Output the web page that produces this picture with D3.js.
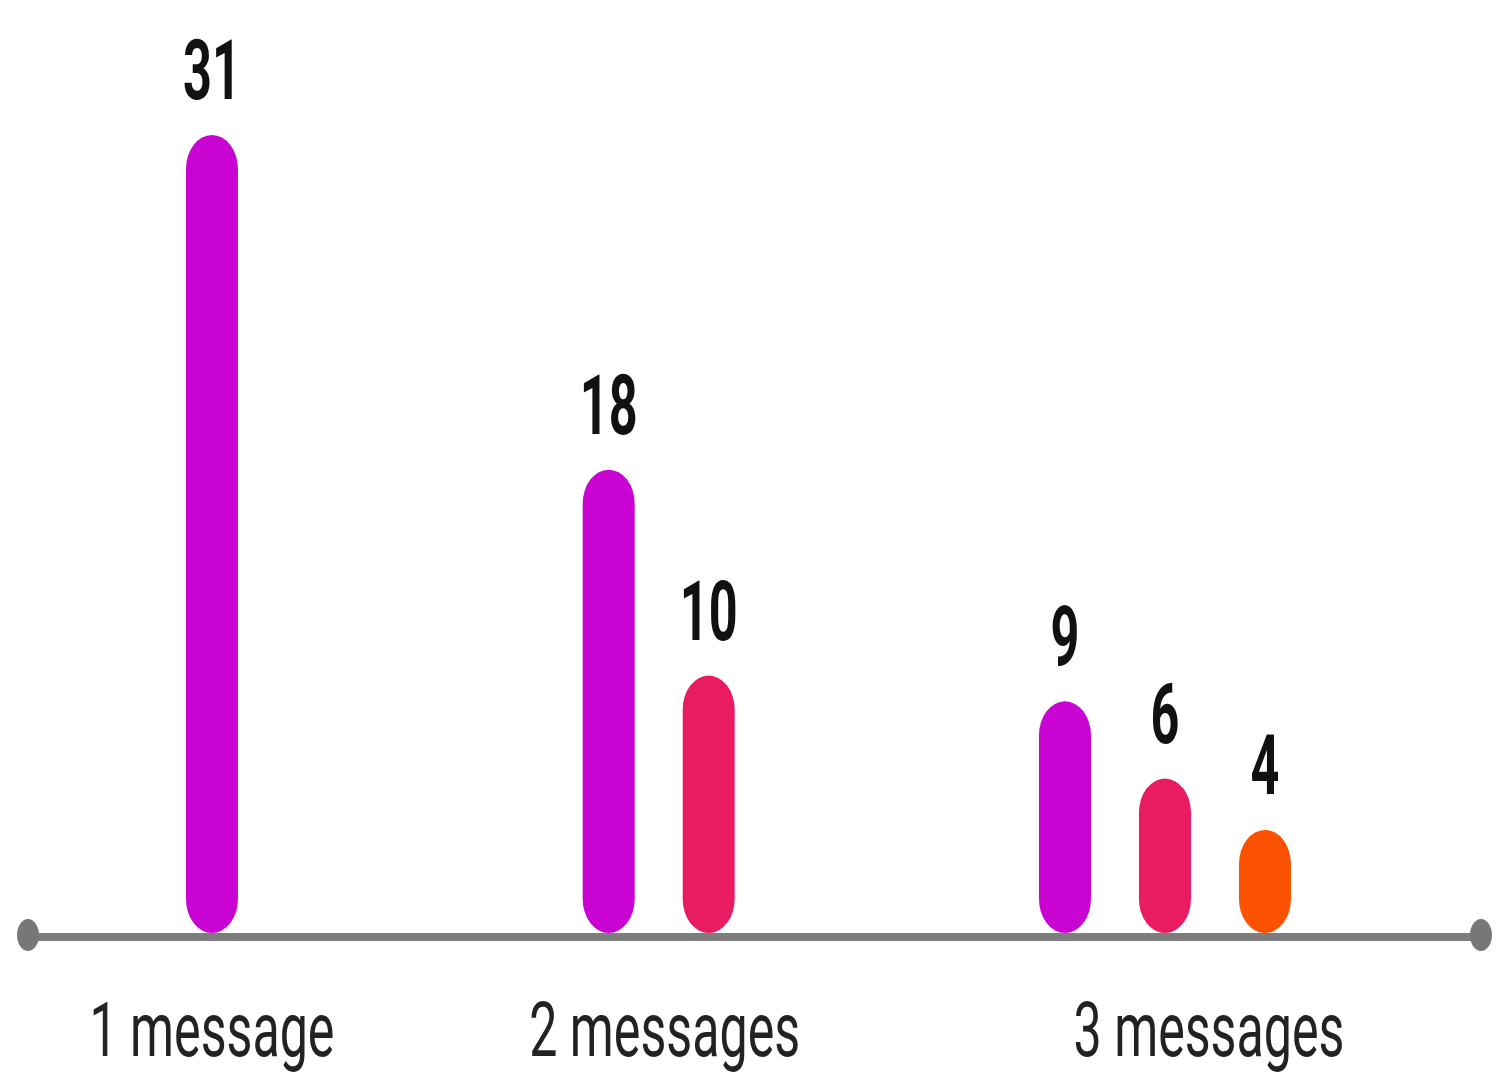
<!DOCTYPE html>
<html>
<head>
<meta charset="utf-8">
<script src="https://cdn.jsdelivr.net/npm/d3@7"></script>
<style>
  html, body { margin: 0; padding: 0; background: #fff; }
  #chart-container { width: 1506px; height: 1076px; }
</style>
</head>
<body>
<div id="chart-container"></div>
<script>
// data
const categories = ["1 message", "2 messages", "3 messages"]
const seriesNames = ["first", "second", "third"]
const firstValues = [31, 18, 9]
const secondValues = [null, 10, 6]
const thirdValues = [null, null, 4]
const seriesColors = ["#c903d1", "#e91c63", "#fb5202"]

const width = 1506
const height = 1076
const axisY = 937

const svg = d3.select("#chart-container")
  .append("svg")
  .attr("width", width)
  .attr("height", height)
  .attr("viewBox", [0, 0, width, height])
  .style("background", "#fff")

// flatten into one row per bar
const allSeries = [firstValues, secondValues, thirdValues]
const groupPad = 6   // extra room per group, in bar slots
let groups = []
let bars = []
let cursor = 0
categories.forEach((cat, gi) => {
  const inGroup = allSeries.map((s, si) => ({ si, value: s[gi] })).filter(d => d.value != null)
  const span = inGroup.length + groupPad
  groups.push({ category: cat, mid: cursor + span / 2 })
  inGroup.forEach((d, k) => {
    bars.push({
      category: cat,
      series: seriesNames[d.si],
      value: d.value,
      color: seriesColors[d.si],
      mid: cursor + span / 2,
      offset: k - (inGroup.length - 1) / 2
    })
  })
  cursor += span
})

//scales
// groups get room in proportion to how many bars they hold
const xScale = d3.scaleLinear().domain([0, cursor]).range([3.5, 1433])
const innerStep = 100
const yScale = d3.scaleLinear().domain([0, 31]).range([axisY - 4, 135])
const barWidth = 52
const barX = d => xScale(d.mid) + d.offset * innerStep

svg.selectAll(".bar")
  .data(bars)
  .enter().append("rect")
  .attr("class", "bar")
  .attr("x", d => barX(d) - barWidth / 2)
  .attr("y", d => yScale(d.value))
  .attr("width", barWidth)
  .attr("height", d => yScale(0) - yScale(d.value))
  .attr("rx", barWidth / 2)
  .attr("ry", 34)
  .style("fill", d => d.color)

// value labels (the type is tall and narrow in the picture)
svg.selectAll(".value-label")
  .data(bars)
  .enter().append("text")
  .attr("class", "value-label")
  .attr("transform", d => `translate(${barX(d)},${yScale(d.value) - 36}) scale(0.6,1)`)
  .attr("text-anchor", "middle")
  .style("font-family", "Roboto, 'Open Sans', sans-serif")
  .style("font-weight", "bold")
  .style("font-size", "84px")
  .style("fill", "#111")
  .text(d => d.value)

// baseline with round ends
const axisExtent = [28, 1481]
svg.append("line")
  .attr("x1", axisExtent[0])
  .attr("x2", axisExtent[1])
  .attr("y1", axisY)
  .attr("y2", axisY)
  .style("stroke", "#7d7d7d")
  .style("stroke-width", 8)

svg.selectAll(".axis-end")
  .data(axisExtent)
  .enter().append("ellipse")
  .attr("class", "axis-end")
  .attr("cx", d => d)
  .attr("cy", axisY - 2)
  .attr("rx", 11)
  .attr("ry", 16)
  .style("fill", "#777")

// category labels, the last one sits a little right of its bars
const labelNudge = [0, 6, 44]
svg.selectAll(".cat-label")
  .data(groups)
  .enter().append("text")
  .attr("class", "cat-label")
  .attr("transform", (d, i) => `translate(${xScale(d.mid) + labelNudge[i]},1056) scale(0.66,1)`)
  .attr("text-anchor", "middle")
  .style("font-family", "Roboto, 'Open Sans', sans-serif")
  .style("font-size", "76px")
  .style("fill", "#222")
  .text(d => d.category)
</script>
</body>
</html>
